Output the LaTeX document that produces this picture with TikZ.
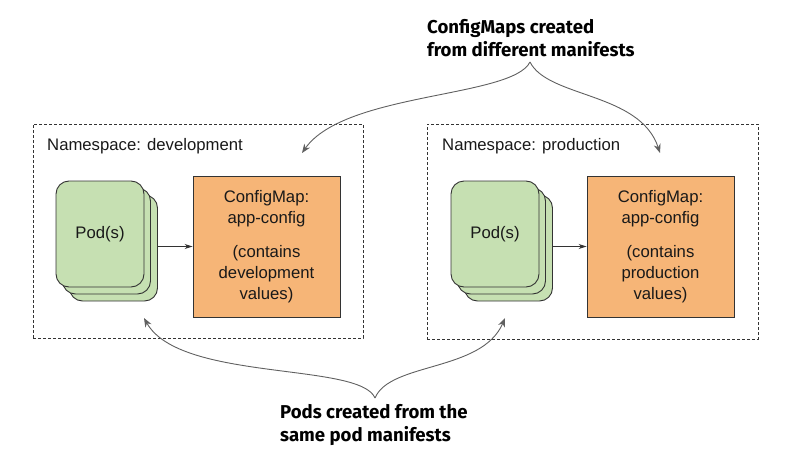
\documentclass[tikz,border=0pt]{standalone}
\usepackage{fontspec}
\setmainfont{Liberation Sans}
\newfontfamily\titlefont{Fira Sans}
\usetikzlibrary{arrows.meta}
\definecolor{podgreen}{HTML}{C6E0B2}
\definecolor{cmorange}{HTML}{F6B577}
\definecolor{edgegrey}{HTML}{333333}
\definecolor{curvegrey}{HTML}{606060}
\tikzset{
  nsbox/.style={draw=edgegrey, dash pattern=on 3pt off 2pt, line width=0.9pt},
  podbox/.style={draw=edgegrey, fill=podgreen, line width=0.9pt, rounded corners=13pt,
    minimum width=88pt, minimum height=106pt, inner sep=0pt},
  cmbox/.style={draw=edgegrey, fill=cmorange, line width=0.9pt,
    minimum width=147pt, minimum height=141pt, inner sep=0pt},
  bodytext/.style={font=\fontsize{16.7}{21}\selectfont, text=black!90},
  calltext/.style={font=\titlefont\bfseries\fontsize{18.6}{23}\selectfont, align=left, anchor=west, inner sep=0pt, text=black},
  tip/.style={-{Stealth[length=9pt,width=7pt]}, draw=curvegrey, line width=0.9pt},
  smallarrow/.style={-{Stealth[length=8pt,width=5pt]}, draw=edgegrey, line width=0.8pt}
}
\begin{document}
\begin{tikzpicture}[x=1pt,y=-1pt]
\useasboundingbox (0,0) rectangle (800,460);
% namespaces
\node[nsbox, minimum width=330pt, minimum height=214pt, inner sep=0pt] (nsL) at (198,231) {};
\node[nsbox, minimum width=331pt, minimum height=215pt, inner sep=0pt] (nsR) at (592.5,231.5) {};
\node[bodytext, anchor=west, inner sep=0pt] (nsLlbl) at (47,146) {Namespace: development};
\node[bodytext, anchor=west, inner sep=0pt] (nsRlbl) at (442,146) {Namespace: production};
% left pods
\node[podbox] (podL3) at (113.5,248) {};
\node[podbox] (podL2) at (106.5,241) {};
\node[podbox, bodytext] (podL1) at (100,234) {Pod(s)};
\node[cmbox] (cmL) at (266.5,246.5) {};
\node[bodytext, align=center] (cmLa) at (266.5,209) {ConfigMap:\\app-config};
\node[bodytext, align=center] (cmLb) at (266.5,274) {(contains\\development\\values)};
\draw[smallarrow] (cmL.west -| podL3.east) -- (cmL.west);
% right pods
\node[podbox] (podR3) at (508.5,248) {};
\node[podbox] (podR2) at (501.5,241) {};
\node[podbox, bodytext] (podR1) at (495,234) {Pod(s)};
\node[cmbox] (cmR) at (660.5,246.5) {};
\node[bodytext, align=center] (cmRa) at (660.5,209) {ConfigMap:\\app-config};
\node[bodytext, align=center] (cmRb) at (660.5,274) {(contains\\production\\values)};
\draw[smallarrow] (cmR.west -| podR3.east) -- (cmR.west);
% callouts
\node[calltext] (topcall) at (427,38.5) {ConfigMaps created\\from different manifests};
\node[calltext] (botcall) at (280,425) {Pods created from the\\same pod manifests};
\coordinate (topapex) at (530,62);
\coordinate (topL) at (302,153);
\coordinate (topR) at (660,153);
\coordinate (botapex) at (375,398);
\coordinate (botL) at (144,318);
\coordinate (botR) at (505,318);
\draw[tip] (topapex) .. controls (512,98) and (345,92) .. (topL);
\draw[tip] (topapex) .. controls (548,98) and (640,92) .. (topR);
\draw[tip] (botapex) .. controls (360,362) and (180,382) .. (botL);
\draw[tip] (botapex) .. controls (390,362) and (482,372) .. (botR);
\end{tikzpicture}
\end{document}
